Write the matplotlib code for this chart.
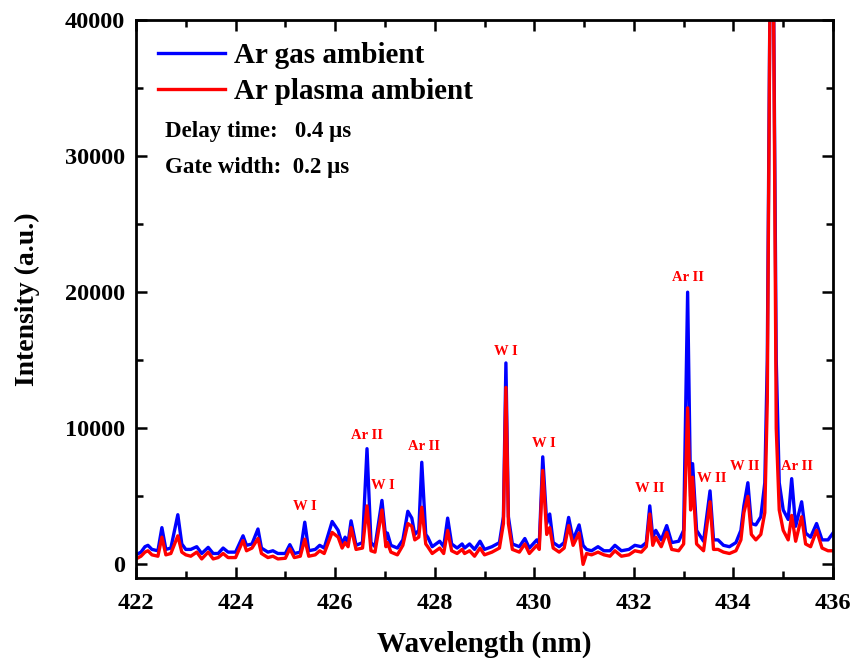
import matplotlib
matplotlib.use("Agg")
import matplotlib.pyplot as plt
from matplotlib.ticker import MultipleLocator

plt.rcParams['font.family'] = ['Liberation Serif', 'DejaVu Serif']
plt.rcParams['font.weight'] = 'bold'

# spectrum vertices (wavelength nm, intensity a.u.)
wl = [422.00, 422.10, 422.18, 422.24, 422.32, 422.44, 422.52, 422.60, 422.70, 422.84,
      422.92, 423.00, 423.10, 423.22, 423.32, 423.45, 423.55, 423.65, 423.75, 423.85,
      424.00, 424.15, 424.22, 424.33, 424.45, 424.52, 424.65, 424.75, 424.85, 425.00,
      425.09, 425.18, 425.30, 425.39, 425.47, 425.60, 425.69, 425.78, 425.94, 426.06,
      426.14, 426.20, 426.26, 426.32, 426.42, 426.55, 426.64, 426.72, 426.80, 426.94,
      427.02, 427.05, 427.12, 427.25, 427.36, 427.46, 427.54, 427.60, 427.68, 427.74,
      427.82, 427.86, 427.95, 428.10, 428.18, 428.26, 428.34, 428.45, 428.55, 428.60,
      428.70, 428.80, 428.91, 429.00, 429.15, 429.30, 429.38, 429.43, 429.48, 429.56,
      429.70, 429.81, 429.90, 430.05, 430.10, 430.17, 430.25, 430.31, 430.38, 430.50,
      430.60, 430.69, 430.78, 430.90, 430.98, 431.05, 431.15, 431.28, 431.40, 431.52,
      431.62, 431.75, 431.90, 432.02, 432.15, 432.25, 432.32, 432.38, 432.44, 432.55,
      432.66, 432.76, 432.90, 433.00, 433.08, 433.14, 433.18, 433.26, 433.40, 433.53,
      433.60, 433.69, 433.80, 433.92, 434.05, 434.15, 434.21, 434.29, 434.36, 434.45,
      434.55, 434.63, 434.68, 434.74, 434.80, 434.86, 434.92, 435.00, 435.10, 435.17,
      435.25, 435.37, 435.45, 435.55, 435.67, 435.78, 435.90, 436.00]

ar_gas = [700, 900, 1300, 1400, 1100, 1000, 2700, 1100, 1200, 3650,
          1500, 1100, 1100, 1300, 800, 1250, 800, 800, 1200, 900,
          900, 2100, 1400, 1500, 2600, 1200, 900, 1000, 800, 800,
          1450, 800, 900, 3100, 1000, 1100, 1400, 1200, 3150, 2500,
          1500, 2000, 1600, 3200, 1400, 1600, 8500, 1600, 1300, 4700,
          1800, 2300, 1400, 1200, 1800, 3900, 3400, 2200, 2500, 7500,
          2200, 2000, 1300, 1700, 1300, 3400, 1500, 1200, 1500, 1200,
          1500, 1100, 1700, 1100, 1300, 1600, 3500, 14800, 3500, 1500,
          1300, 1900, 1200, 1800, 1500, 7900, 3000, 3700, 1600, 1300,
          1600, 3450, 1800, 2900, 1400, 1100, 1000, 1300, 1000, 1000,
          1400, 1000, 1100, 1400, 1300, 1600, 4300, 2000, 2500, 1800,
          2850, 1600, 1700, 2500, 20000, 5000, 7400, 2500, 1700, 5400,
          1800, 1800, 1400, 1300, 1600, 2500, 4300, 6000, 3000, 2900,
          3500, 6000, 15000, 45000, 45000, 15000, 6000, 4000, 3300, 6300,
          2800, 4600, 2300, 2000, 3000, 1800, 1800, 2300]

ar_plasma = [400, 600, 900, 1000, 700, 600, 2000, 700, 800, 2100,
             900, 700, 600, 900, 400, 900, 400, 500, 800, 500,
             500, 1750, 1000, 1200, 1900, 800, 500, 600, 400, 450,
             1150, 500, 600, 1850, 600, 700, 1000, 800, 2350, 2000,
             1200, 1600, 1300, 2700, 1100, 1200, 4300, 1000, 900, 4000,
             1300, 1600, 900, 700, 1400, 3000, 2800, 1800, 2000, 4200,
             1500, 1300, 800, 1200, 800, 2500, 1000, 800, 1100, 800,
             1000, 600, 1200, 700, 900, 1200, 3000, 13000, 3000, 1100,
             900, 1500, 800, 1400, 1100, 6900, 2200, 2700, 1200, 900,
             1200, 2850, 1400, 2300, 0, 800, 700, 900, 700, 600,
             1000, 600, 700, 1000, 900, 1300, 3700, 1400, 2000, 1300,
             2350, 1100, 1000, 1500, 11500, 4000, 6400, 1500, 1000, 4600,
             1100, 1100, 900, 800, 1000, 1800, 3800, 5000, 2200, 1800,
             2200, 3800, 12000, 45000, 45000, 10000, 4000, 2500, 1800, 3600,
             1700, 3500, 1500, 1300, 2500, 1200, 1000, 1000]

# line identifications
line_names = ['W I', 'Ar II', 'W I', 'Ar II', 'W I', 'W I', 'W II', 'Ar II', 'W II', 'W II', 'Ar II']
line_x = [425.40, 426.64, 426.96, 427.78, 429.43, 430.19, 432.32, 433.08, 433.57, 434.23, 435.27]
line_y = [3800, 9000, 5300, 8200, 15200, 8400, 5100, 20600, 5800, 6700, 6700]

fig = plt.figure(figsize=(8.5, 6.58), dpi=100)
ax = fig.add_axes([0.16, 0.1216, 0.82, 0.848])

ax.plot(wl, ar_gas, color='#0000ff', lw=2.4, label='Ar gas ambient')
ax.plot(wl, ar_plasma, color='#ff0000', lw=2.4, label='Ar plasma ambient')

for name, x, y in zip(line_names, line_x, line_y):
    ax.text(x, y, name, color='#ff0000', fontsize=10.5, fontweight='bold',
            ha='center', va='bottom')

ax.set_xlim(422, 436)
ax.set_ylim(-1000, 40000)
ax.xaxis.set_major_locator(MultipleLocator(2))
ax.xaxis.set_minor_locator(MultipleLocator(1))
ax.yaxis.set_major_locator(MultipleLocator(10000))
ax.yaxis.set_minor_locator(MultipleLocator(5000))
ax.tick_params(which='both', direction='in', top=True, right=True, width=1.8, labelsize=17.5)
ax.tick_params(which='major', length=8)
ax.tick_params(axis='x', which='major', pad=11)
ax.tick_params(axis='y', which='major', pad=8)
ax.tick_params(which='minor', length=5)
for s in ax.spines.values():
    s.set_linewidth(2)

ax.set_xlabel('Wavelength (nm)', fontsize=21, fontweight='bold', labelpad=12)
ax.set_ylabel('Intensity (a.u.)', fontsize=20, fontweight='bold', labelpad=18)

ax.legend(loc='upper left', frameon=False, handlelength=2.3,
          handletextpad=0.3, labelspacing=0.32, borderaxespad=0.35,
          prop={'weight': 'bold', 'size': 21})
ax.text(0.042, 0.79, 'Delay time:   0.4 \u03bcs', transform=ax.transAxes, fontsize=16.5, fontweight='bold')
ax.text(0.042, 0.725, 'Gate width:  0.2 \u03bcs', transform=ax.transAxes, fontsize=16.5, fontweight='bold')

fig.savefig('out.png', dpi=100)
